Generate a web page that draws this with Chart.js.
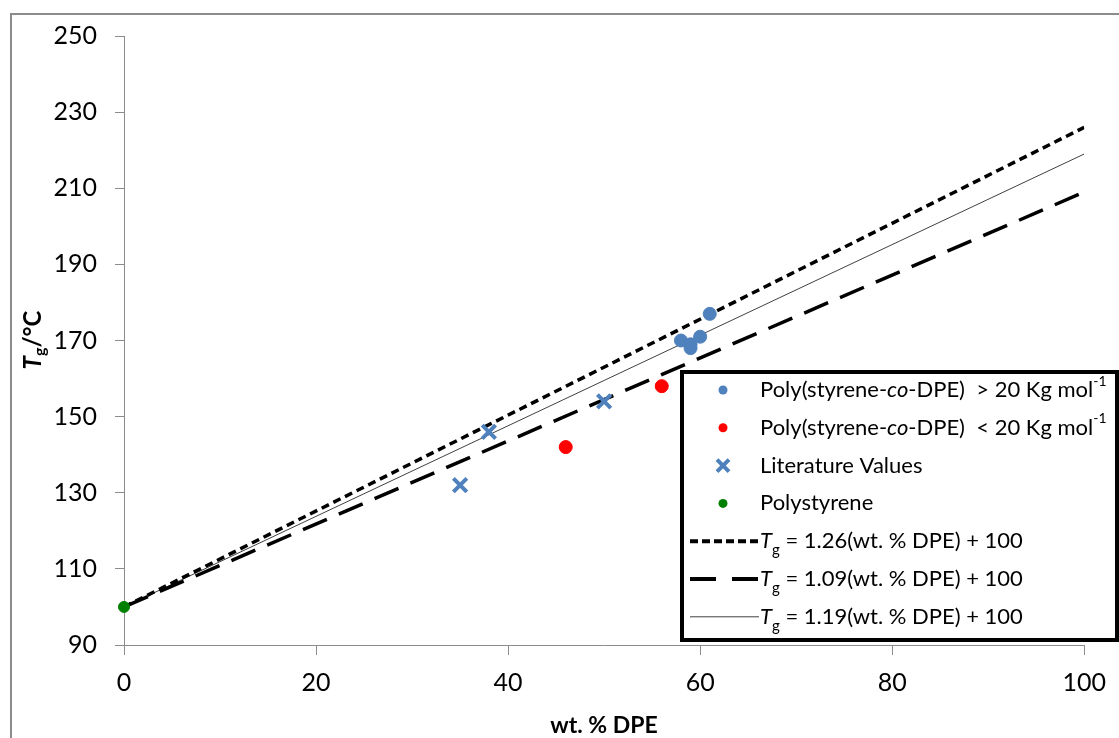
<!DOCTYPE html>
<html>
<head>
<meta charset="utf-8">
<script src="https://cdn.jsdelivr.net/npm/chart.js@4"></script>
<style>
  body { margin: 0; background: #fff; }
  #wrap { width: 1119px; height: 738px; }
</style>
</head>
<body>
<div id="wrap"><canvas id="myChart" width="1119" height="738"></canvas></div>
<script>
// data
const highMwX = [58, 59, 59, 60, 61];
const highMwY = [170, 168, 169, 171, 177];
const lowMwX = [46, 56];
const lowMwY = [142, 158];
const litX = [35, 38, 50];
const litY = [132, 146, 154];
const psX = [0];
const psY = [100];
const fitX = [0, 100];
const fit126 = [100, 226];
const fit109 = [100, 209];
const fit119 = [100, 219];
const xTicks = [0, 20, 40, 60, 80, 100];
const yTicks = [90, 110, 130, 150, 170, 190, 210, 230, 250];

const BLUE = '#4f81bd';
const FONT = 'Lato, "Open Sans", sans-serif';

function pts(xs, ys) {
    return xs.map((x, i) => ({ x: x, y: ys[i] }));
}

const ctx = document.getElementById('myChart').getContext('2d');

// outer frame + legend + axis titles
const decor = {
    id: 'decor',
    beforeDraw(chart) {
        const c = chart.ctx;
        c.save();
        c.fillStyle = '#fff';
        c.fillRect(0, 0, chart.width, chart.height);
        c.strokeStyle = '#8c8c8c';
        c.lineWidth = 2;
        c.strokeRect(11, 14, 1200, 800);
        c.restore();
    },
    afterDraw(chart) {
        const c = chart.ctx;
        c.save();

        // y title: T(italic) g(sub) /°C, rotated
        c.translate(33, 340);
        c.rotate(-Math.PI / 2);
        c.fillStyle = '#000';
        c.textBaseline = 'middle';
        let parts = [
            { t: 'T', f: 'italic bold 24px ' + FONT, dy: 0 },
            { t: 'g', f: 'bold 16px ' + FONT, dy: 7 },
            { t: '/°C', f: 'bold 24px ' + FONT, dy: 0 }
        ];
        let w = 0;
        parts.forEach(p => { c.font = p.f; w += c.measureText(p.t).width; });
        let x = -w / 2;
        parts.forEach(p => {
            c.font = p.f;
            c.fillText(p.t, x, p.dy);
            x += c.measureText(p.t).width;
        });
        c.restore();

        // x title
        c.save();
        c.fillStyle = '#000';
        c.font = 'bold 23px ' + FONT;
        c.textAlign = 'center';
        c.textBaseline = 'middle';
        c.fillText('wt. % DPE', 604, 726);
        c.restore();

        // legend box
        c.save();
        c.fillStyle = '#fff';
        c.fillRect(682, 372, 435, 268);
        c.strokeStyle = '#000';
        c.lineWidth = 4;
        c.strokeRect(682, 372, 435, 268);

        const rows = [
            { mark: 'dot', color: BLUE, txt: [['Poly(styrene-', 'n'], ['co', 'i'], ['-DPE)  > 20 Kg mol', 'n'], ['-1', 'sup']] },
            { mark: 'dot', color: '#ff0000', txt: [['Poly(styrene-', 'n'], ['co', 'i'], ['-DPE)  < 20 Kg mol', 'n'], ['-1', 'sup']] },
            { mark: 'cross', color: BLUE, txt: [['Literature Values', 'n']] },
            { mark: 'dot', color: '#008000', txt: [['Polystyrene', 'n']] },
            { mark: 'short', txt: [['T', 'i'], ['g', 'sub'], [' = 1.26(wt. % DPE) + 100', 'n']] },
            { mark: 'long', txt: [['T', 'i'], ['g', 'sub'], [' = 1.09(wt. % DPE) + 100', 'n']] },
            { mark: 'thin', txt: [['T', 'i'], ['g', 'sub'], [' = 1.19(wt. % DPE) + 100', 'n']] }
        ];
        const fonts = {
            n: '22px ' + FONT,
            i: 'italic 22px ' + FONT,
            sup: '14px ' + FONT,
            sub: '15px ' + FONT
        };
        const dys = { n: 0, i: 0, sup: -9, sub: 9 };
        rows.forEach((r, i) => {
            const y = 390 + i * 37.8;
            c.setLineDash([]);
            if (r.mark === 'dot') {
                c.fillStyle = r.color;
                c.beginPath();
                c.arc(723, y, 4.5, 0, Math.PI * 2);
                c.fill();
            } else if (r.mark === 'cross') {
                c.strokeStyle = r.color;
                c.lineWidth = 4;
                c.beginPath();
                c.moveTo(717, y - 6); c.lineTo(729, y + 6);
                c.moveTo(729, y - 6); c.lineTo(717, y + 6);
                c.stroke();
            } else {
                c.strokeStyle = r.mark === 'thin' ? '#404040' : '#000';
                c.lineWidth = r.mark === 'thin' ? 1 : 4;
                if (r.mark === 'short') c.setLineDash([8, 4]);
                if (r.mark === 'long') c.setLineDash([26, 16]);
                c.beginPath();
                c.moveTo(690, y);
                c.lineTo(759, y);
                c.stroke();
                c.setLineDash([]);
            }
            let tx = 760;
            c.fillStyle = '#000';
            c.textBaseline = 'middle';
            r.txt.forEach(s => {
                c.font = fonts[s[1]];
                c.fillText(s[0], tx, y + dys[s[1]]);
                tx += c.measureText(s[0]).width;
            });
        });
        c.restore();
    }
};

const myChart = new Chart(ctx, {
    type: 'scatter',
    data: {
        datasets: [
            {
                label: 'Polystyrene',
                data: pts(psX, psY),
                backgroundColor: '#008000',
                borderColor: '#008000',
                pointRadius: 5.5,
                clip: false,
                order: 0
            },
            {
                label: 'Poly(styrene-co-DPE) > 20 Kg mol-1',
                data: pts(highMwX, highMwY),
                backgroundColor: BLUE,
                borderColor: BLUE,
                pointRadius: 6.5,
                order: 1
            },
            {
                label: 'Poly(styrene-co-DPE) < 20 Kg mol-1',
                data: pts(lowMwX, lowMwY),
                backgroundColor: '#ff0000',
                borderColor: '#ff0000',
                pointRadius: 6.5,
                order: 2
            },
            {
                label: 'Literature Values',
                data: pts(litX, litY),
                pointStyle: 'crossRot',
                borderColor: BLUE,
                backgroundColor: BLUE,
                pointRadius: 9.5,
                pointBorderWidth: 4,
                order: 3
            },
            {
                label: 'Tg = 1.26(wt. % DPE) + 100',
                data: pts(fitX, fit126),
                showLine: true,
                borderColor: '#000',
                borderWidth: 3.5,
                borderDash: [8, 5],
                pointRadius: 0,
                order: 4
            },
            {
                label: 'Tg = 1.09(wt. % DPE) + 100',
                data: pts(fitX, fit109),
                showLine: true,
                borderColor: '#000',
                borderWidth: 3.5,
                borderDash: [26, 13],
                pointRadius: 0,
                order: 5
            },
            {
                label: 'Tg = 1.19(wt. % DPE) + 100',
                data: pts(fitX, fit119),
                showLine: true,
                borderColor: '#404040',
                borderWidth: 1,
                pointRadius: 0,
                order: 6
            }
        ]
    },
    options: {
        responsive: false,
        animation: false,
        layout: { padding: { top: 36, right: 34, left: 0, bottom: 0 } },
        plugins: {
            legend: { display: false },
            tooltip: { enabled: false }
        },
        scales: {
            x: {
                type: 'linear',
                min: 0,
                max: 100,
                afterFit: s => { s.height = 93; },
                afterBuildTicks: s => { s.ticks = xTicks.map(v => ({ value: v })); },
                ticks: { font: { family: FONT, size: 25 }, color: '#000', padding: 13, maxRotation: 0 },
                grid: { drawOnChartArea: false, color: '#8c8c8c', tickLength: 10 },
                border: { color: '#8c8c8c', width: 1 }
            },
            y: {
                min: 90,
                max: 250,
                afterFit: s => { s.width = 124; },
                afterBuildTicks: s => { s.ticks = yTicks.map(v => ({ value: v })); },
                ticks: { font: { family: FONT, size: 25 }, color: '#000', padding: 18 },
                grid: { drawOnChartArea: false, color: '#8c8c8c', tickLength: 9 },
                border: { color: '#8c8c8c', width: 1 }
            }
        }
    },
    plugins: [decor]
});
</script>
</body>
</html>
